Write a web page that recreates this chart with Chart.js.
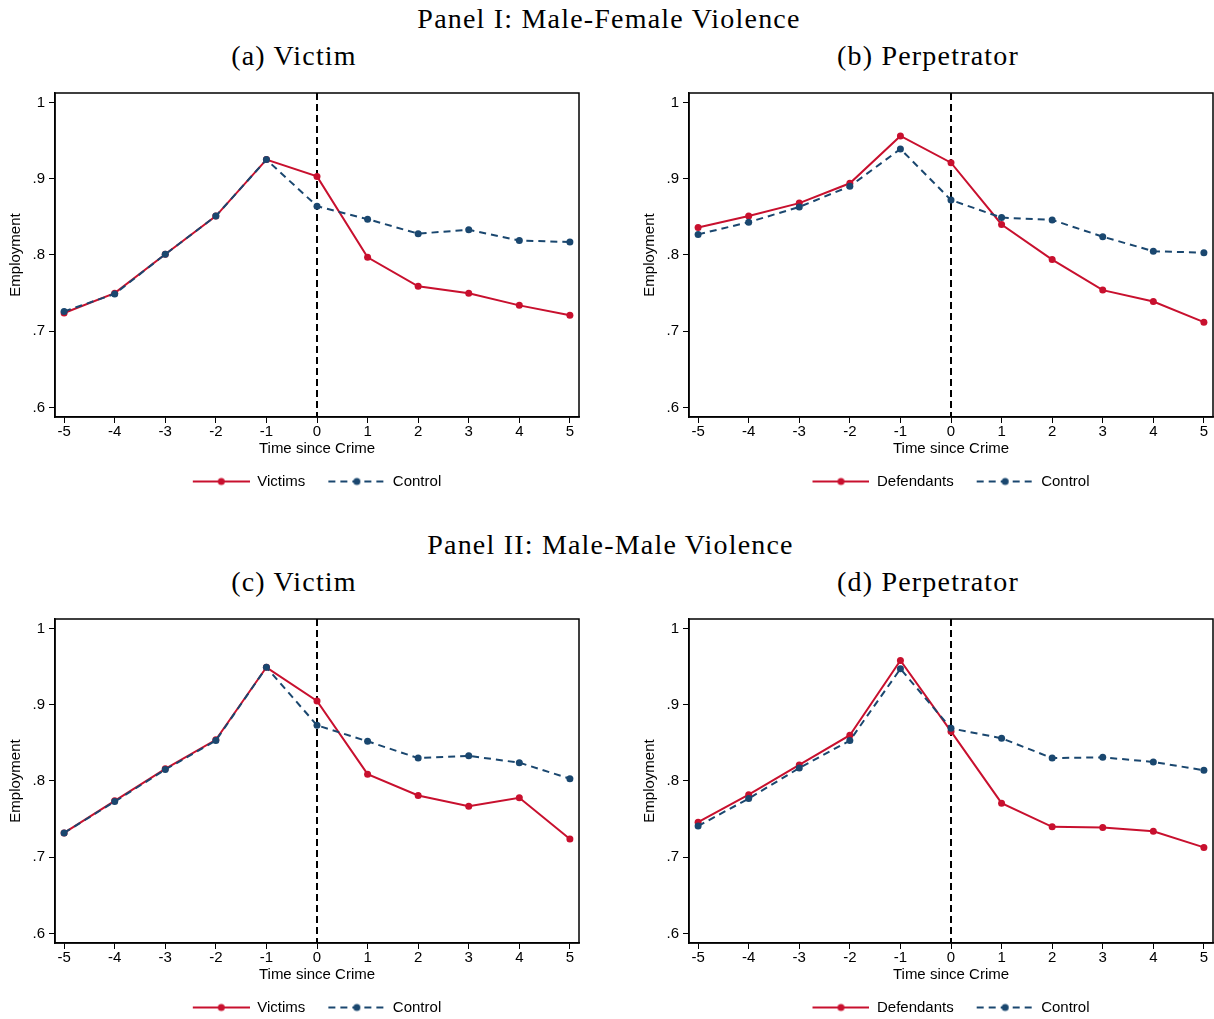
<!DOCTYPE html>
<html lang="en">
<head>
<meta charset="UTF-8">
<title>Employment around violent crime</title>
<style>
  html, body { margin: 0; padding: 0; background: #fff; overflow: hidden; }
  body { position: relative; width: 1214px; height: 1019px; }
  .head {
    position: absolute;
    font-family: "Liberation Serif", "Times New Roman", serif;
    font-size: 28px; line-height: 28px; letter-spacing: 1.2px;
    color: #000; text-align: center; white-space: nowrap;
  }
  canvas { position: absolute; }
</style>
</head>
<body>
<div class="head" style="left:0; width:1218px; top:5px;">Panel I: Male-Female Violence</div>
<div class="head" style="left:0; width:588px; top:42px;">(a) Victim</div>
<div class="head" style="left:634px; width:588px; top:42px;">(b) Perpetrator</div>
<div class="head" style="left:0; width:1221px; top:531px;">Panel II: Male-Male Violence</div>
<div class="head" style="left:0; width:588px; top:568px;">(c) Victim</div>
<div class="head" style="left:634px; width:588px; top:568px;">(d) Perpetrator</div>

<canvas id="chartA" width="624" height="419" style="left:0; top:80px;"></canvas>
<canvas id="chartB" width="624" height="419" style="left:634px; top:80px;"></canvas>
<canvas id="chartC" width="624" height="419" style="left:0; top:606px;"></canvas>
<canvas id="chartD" width="624" height="419" style="left:634px; top:606px;"></canvas>

<script src="https://cdn.jsdelivr.net/npm/chart.js"></script>
<script>
// years relative to the crime
const xValues = [-5, -4, -3, -2, -1, 0, 1, 2, 3, 4, 5];
const crimeTime = 0;

// Panel I: male-female violence
const aVictims = [0.724, 0.750, 0.801, 0.851, 0.925, 0.903, 0.797, 0.759, 0.750, 0.734, 0.721];
const aControl = [0.726, 0.749, 0.801, 0.851, 0.925, 0.864, 0.847, 0.828, 0.833, 0.819, 0.817];
const bDefendants = [0.836, 0.851, 0.868, 0.894, 0.956, 0.921, 0.840, 0.794, 0.754, 0.739, 0.712];
const bControl = [0.827, 0.843, 0.863, 0.890, 0.939, 0.872, 0.849, 0.846, 0.824, 0.805, 0.803];

// Panel II: male-male violence
const cVictims = [0.732, 0.774, 0.816, 0.854, 0.949, 0.905, 0.809, 0.781, 0.767, 0.778, 0.724];
const cControl = [0.732, 0.773, 0.815, 0.853, 0.949, 0.873, 0.852, 0.830, 0.833, 0.824, 0.803];
const dDefendants = [0.746, 0.782, 0.821, 0.860, 0.958, 0.865, 0.771, 0.740, 0.739, 0.734, 0.713];
const dControl = [0.741, 0.777, 0.817, 0.853, 0.947, 0.869, 0.856, 0.830, 0.831, 0.825, 0.814];

const yTicks = [0.6, 0.7, 0.8, 0.9, 1];
const yTickLabels = ['.6', '.7', '.8', '.9', '1'];

const red = '#c8102e';
const navy = '#1a476f';

Chart.defaults.font.family = "'Liberation Sans', Arial, sans-serif";
Chart.defaults.font.size = 15;
Chart.defaults.color = '#000';

// line + dot symbol for the legend
function legendSymbol(color, dash) {
    const c = document.createElement('canvas');
    c.width = 70;
    c.height = 10;
    const g = c.getContext('2d');
    g.strokeStyle = color;
    g.lineWidth = 2;
    g.setLineDash(dash);
    g.beginPath();
    g.moveTo(13, 5);
    g.lineTo(70, 5);
    g.stroke();
    g.fillStyle = color;
    g.beginPath();
    g.arc(41.5, 5, 3.5, 0, Math.PI * 2);
    g.fill();
    return c;
}
const symbols = [legendSymbol(red, []), legendSymbol(navy, [7, 5])];

const crimeLine = {
    id: 'crimeLine',
    beforeDatasetsDraw(chart) {
        const { ctx, chartArea, scales } = chart;
        const px = scales.x.getPixelForValue(crimeTime);
        ctx.save();
        ctx.strokeStyle = '#000';
        ctx.lineWidth = 2;
        ctx.setLineDash([7, 4]);
        ctx.beginPath();
        ctx.moveTo(px, chartArea.top);
        ctx.lineTo(px, chartArea.bottom);
        ctx.stroke();
        ctx.restore();
    }
};

const frame = {
    id: 'frame',
    afterDraw(chart) {
        const { ctx, chartArea } = chart;
        ctx.save();
        ctx.strokeStyle = '#000';
        ctx.lineWidth = 1.5;
        ctx.strokeRect(chartArea.left, chartArea.top, chartArea.width, chartArea.height);
        ctx.restore();
    }
};

function makePanel(id, treatedLabel, treated, control) {
    new Chart(document.getElementById(id), {
        type: 'line',
        data: {
            datasets: [{
                label: treatedLabel,
                data: xValues.map((x, i) => ({ x: x, y: treated[i] })),
                borderColor: red,
                backgroundColor: red,
                pointBackgroundColor: red,
                borderWidth: 2,
                pointRadius: 3.5,
                pointBorderWidth: 0,
                tension: 0,
                order: 1
            }, {
                label: 'Control',
                data: xValues.map((x, i) => ({ x: x, y: control[i] })),
                borderColor: navy,
                backgroundColor: navy,
                pointBackgroundColor: navy,
                borderWidth: 2,
                borderDash: [7, 5],
                pointRadius: 3.5,
                pointBorderWidth: 0,
                tension: 0,
                order: 0
            }]
        },
        options: {
            responsive: false,
            animation: false,
            devicePixelRatio: 1,
            layout: { padding: { left: 0, top: 13, right: 3, bottom: 0 } },
            scales: {
                x: {
                    type: 'linear',
                    min: -5.18,
                    max: 5.18,
                    afterBuildTicks: (s) => { s.ticks = xValues.map(v => ({ value: v })); },
                    afterFit: (s) => { s.height = 47; },
                    ticks: { padding: 0, callback: (v) => String(v) },
                    grid: { drawOnChartArea: false, tickLength: 6, color: '#000' },
                    border: { color: '#000', width: 1.5 },
                    title: { display: true, text: 'Time since Crime', padding: { top: 0, bottom: 6 } }
                },
                y: {
                    type: 'linear',
                    min: 0.5877,
                    max: 1.0123,
                    afterBuildTicks: (s) => { s.ticks = yTicks.map(v => ({ value: v })); },
                    afterFit: (s) => { s.width = 55; },
                    ticks: { padding: 4, callback: (v) => yTickLabels[yTicks.indexOf(v)] },
                    grid: { drawOnChartArea: false, tickLength: 6, color: '#000' },
                    border: { color: '#000', width: 1.5 },
                    title: { display: true, text: 'Employment', padding: { top: 7, bottom: 0 } }
                },
                // invisible spacer so the legend centres under the plot
                pad: {
                    type: 'linear',
                    axis: 'y',
                    position: 'right',
                    ticks: { display: false },
                    grid: { display: false },
                    border: { display: false },
                    afterFit: (s) => { s.width = 42; }
                }
            },
            plugins: {
                tooltip: { enabled: false },
                legend: {
                    position: 'bottom',
                    labels: {
                        usePointStyle: true,
                        pointStyleWidth: 70,
                        boxHeight: 15,
                        padding: 10,
                        color: '#000',
                        font: { size: 15 },
                        generateLabels: (chart) => chart.data.datasets.map((ds, i) => ({
                            text: ds.label,
                            pointStyle: symbols[i],
                            fillStyle: ds.borderColor,
                            strokeStyle: ds.borderColor,
                            lineWidth: 0,
                            hidden: false,
                            datasetIndex: i
                        }))
                    }
                }
            }
        },
        plugins: [crimeLine, frame]
    });
}

makePanel('chartA', 'Victims', aVictims, aControl);
makePanel('chartB', 'Defendants', bDefendants, bControl);
makePanel('chartC', 'Victims', cVictims, cControl);
makePanel('chartD', 'Defendants', dDefendants, dControl);
</script>
</body>
</html>
